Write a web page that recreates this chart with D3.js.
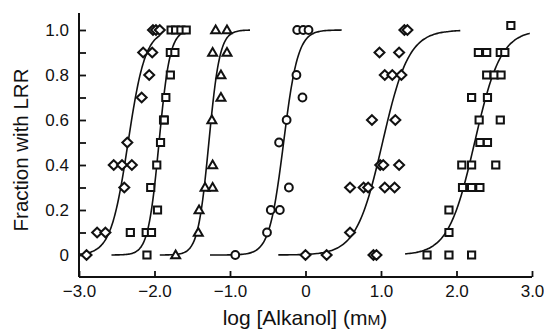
<!DOCTYPE html>
<html>
<head>
<meta charset="utf-8">
<script src="https://d3js.org/d3.v7.min.js"></script>
<style>
  body { margin: 0; background: #fff; }
  text { font-family: "Liberation Sans", Arial, sans-serif; fill: #111; }
</style>
</head>
<body>
<div id="chart"></div>
<script>
// log [alkanol] (mM) and fraction with LRR, one pair of arrays per alkanol
var set1X = [-2.02, -1.98, -1.93, -2.15, -2.03, -2.07, -2.17, -2.36, -2.54, -2.43, -2.30, -2.40, -2.76, -2.65, -2.90];
var set1Y = [1, 1, 1, 0.9, 0.9, 0.8, 0.7, 0.5, 0.4, 0.4, 0.4, 0.3, 0.1, 0.1, 0];

var set2X = [-1.78, -1.72, -1.65, -1.58, -1.79, -1.73, -1.79, -1.85, -1.88, -1.87, -1.92, -1.97, -2.05, -1.96, -2.32, -2.11, -2.04, -2.10];
var set2Y = [1, 1, 1, 1, 0.9, 0.9, 0.8, 0.7, 0.6, 0.6, 0.5, 0.4, 0.3, 0.2, 0.1, 0.1, 0.1, 0];

var set3X = [-1.19, -1.04, -1.23, -1.04, -1.12, -1.12, -1.24, -1.23, -1.33, -1.23, -1.41, -1.42, -1.72];
var set3Y = [1, 1, 0.9, 0.9, 0.8, 0.7, 0.6, 0.4, 0.3, 0.3, 0.2, 0.1, 0];

var set4X = [-0.11, -0.03, 0.04, -0.12, -0.04, -0.25, -0.35, -0.22, -0.46, -0.34, -0.51, -0.93];
var set4Y = [1, 1, 1, 0.8, 0.7, 0.6, 0.5, 0.3, 0.2, 0.2, 0.1, 0];

var set5X = [1.31, 1.35, 0.98, 1.24, 1.05, 1.15, 1.27, 0.88, 1.19, 0.99, 1.03, 1.24, 0.59, 0.77, 0.83, 1.05, 1.18, 0.59, 0.0, 0.28, 0.90, 0.94];
var set5Y = [1, 1, 0.9, 0.9, 0.8, 0.8, 0.8, 0.6, 0.6, 0.4, 0.4, 0.4, 0.3, 0.3, 0.3, 0.3, 0.3, 0.1, 0, 0, 0, 0];

var set6X = [2.72, 2.29, 2.40, 2.58, 2.64, 2.40, 2.50, 2.59, 2.20, 2.41, 2.30, 2.58, 2.31, 2.41, 2.07, 2.20, 2.52, 2.08, 2.20, 2.31, 1.90, 1.90, 1.61, 1.90, 2.20];
var set6Y = [1.02, 0.9, 0.9, 0.9, 0.9, 0.8, 0.8, 0.8, 0.7, 0.7, 0.6, 0.6, 0.5, 0.5, 0.4, 0.4, 0.4, 0.3, 0.3, 0.3, 0.2, 0.1, 0, 0, 0];

// fitted curves: midpoint (log mM), Hill slope, and the x span drawn
var fitMid = [-2.35, -1.94, -1.28, -0.29, 1.02, 2.24];
var fitSlope = [3.8, 6, 6, 4.6, 2.5, 2.5];
var fitFrom = [-3.0, -2.57, -1.93, -1.265, -0.36, 1.32];
var fitTo = [-1.93, -1.55, -0.735, 0.48, 2.05, 2.97];

var xTicks = [-3, -2, -1, 0, 1, 2, 3];
var yTicks = [0, 0.1, 0.2, 0.3, 0.4, 0.5, 0.6, 0.7, 0.8, 0.9, 1.0];

var svgWidth = 544;
var svgHeight = 331;

var svg = d3.select("#chart")
  .append("svg")
  .attr("width", svgWidth)
  .attr("height", svgHeight);

var xScale = d3.scaleLinear().domain([-3, 3]).range([79, 532]);
var yScale = d3.scaleLinear().domain([0, 1]).range([255, 30]);
var axisBase = 277;
var axisTop = 13;

// axis lines
svg.append("line")
  .attr("x1", 79).attr("x2", 532)
  .attr("y1", axisBase).attr("y2", axisBase)
  .attr("stroke", "#111").attr("stroke-width", 2);
svg.append("line")
  .attr("x1", 79).attr("x2", 79)
  .attr("y1", axisTop).attr("y2", axisBase)
  .attr("stroke", "#111").attr("stroke-width", 2);

var fmt = d3.format(".1f");

var bottomAxis = d3.axisBottom(xScale)
  .tickValues(xTicks)
  .tickSizeInner(-6)
  .tickSizeOuter(0)
  .tickPadding(8)
  .tickFormat(d => d === 0 ? "0" : fmt(d));

var leftAxis = d3.axisLeft(yScale)
  .tickValues(yTicks)
  .tickSizeInner(-7)
  .tickSizeOuter(0)
  .tickPadding(10)
  .tickFormat(d => {
    var i = Math.round(d * 10);
    if (i % 2 === 1) return "";
    return i === 0 ? "0" : fmt(d);
  });

var xAxis = svg.append("g")
  .attr("transform", `translate(0, ${axisBase})`)
  .call(bottomAxis);

var yAxis = svg.append("g")
  .attr("transform", "translate(79, 0)")
  .call(leftAxis);

[xAxis, yAxis].forEach(function(g) {
  g.select(".domain").remove();
  g.selectAll(".tick line").attr("stroke", "#111").attr("stroke-width", 1.8);
  g.selectAll(".tick text")
    .attr("font-size", 17)
    .attr("font-family", "Liberation Sans, Arial, sans-serif")
    .attr("fill", "#111");
});

// axis titles
svg.append("text")
  .attr("transform", "translate(28, 150) rotate(-90)")
  .attr("text-anchor", "middle")
  .attr("font-size", 20.5)
  .text("Fraction with LRR");

var xTitle = svg.append("text")
  .attr("x", 305)
  .attr("y", 325)
  .attr("text-anchor", "middle")
  .attr("font-size", 21)
  .text("log [Alkanol] (m");
xTitle.append("tspan").attr("font-size", 15.5).text("M");
xTitle.append("tspan").text(")");

// fitted sigmoids
var line = d3.line()
  .x(d => xScale(d[0]))
  .y(d => yScale(d[1]))
  .curve(d3.curveBasis);

fitMid.forEach(function(mid, i) {
  var n = 80;
  var pts = d3.range(n + 1).map(function(k) {
    var x = fitFrom[i] + (fitTo[i] - fitFrom[i]) * k / n;
    return [x, 1 / (1 + Math.pow(10, fitSlope[i] * (mid - x)))];
  });
  svg.append("path")
    .attr("d", line(pts))
    .attr("fill", "none")
    .attr("stroke", "#111")
    .attr("stroke-width", 1.6);
});

// marker shapes
var diamond = "M0,-4.8L5,0L0,4.8L-5,0Z";
var square = "M-3.6,-3.6H3.6V3.6H-3.6Z";
var triangle = "M0,-4.5L4.5,3.3H-4.5Z";

function drawPoints(xs, ys, shape) {
  var pts = xs.map((x, i) => [x, ys[i]]);
  var g = svg.append("g");
  if (shape === "circle") {
    g.selectAll("circle")
      .data(pts)
      .enter()
      .append("circle")
      .attr("cx", d => xScale(d[0]))
      .attr("cy", d => yScale(d[1]))
      .attr("r", 3.9)
      .attr("fill", "#fff")
      .attr("stroke", "#111")
      .attr("stroke-width", 2);
  } else {
    g.selectAll("path")
      .data(pts)
      .enter()
      .append("path")
      .attr("transform", d => `translate(${xScale(d[0])}, ${yScale(d[1])})`)
      .attr("d", shape)
      .attr("fill", "#fff")
      .attr("stroke", "#111")
      .attr("stroke-width", 2);
  }
}

drawPoints(set1X, set1Y, diamond);
drawPoints(set2X, set2Y, square);
drawPoints(set3X, set3Y, triangle);
drawPoints(set4X, set4Y, "circle");
drawPoints(set5X, set5Y, diamond);
drawPoints(set6X, set6Y, square);
</script>
</body>
</html>
